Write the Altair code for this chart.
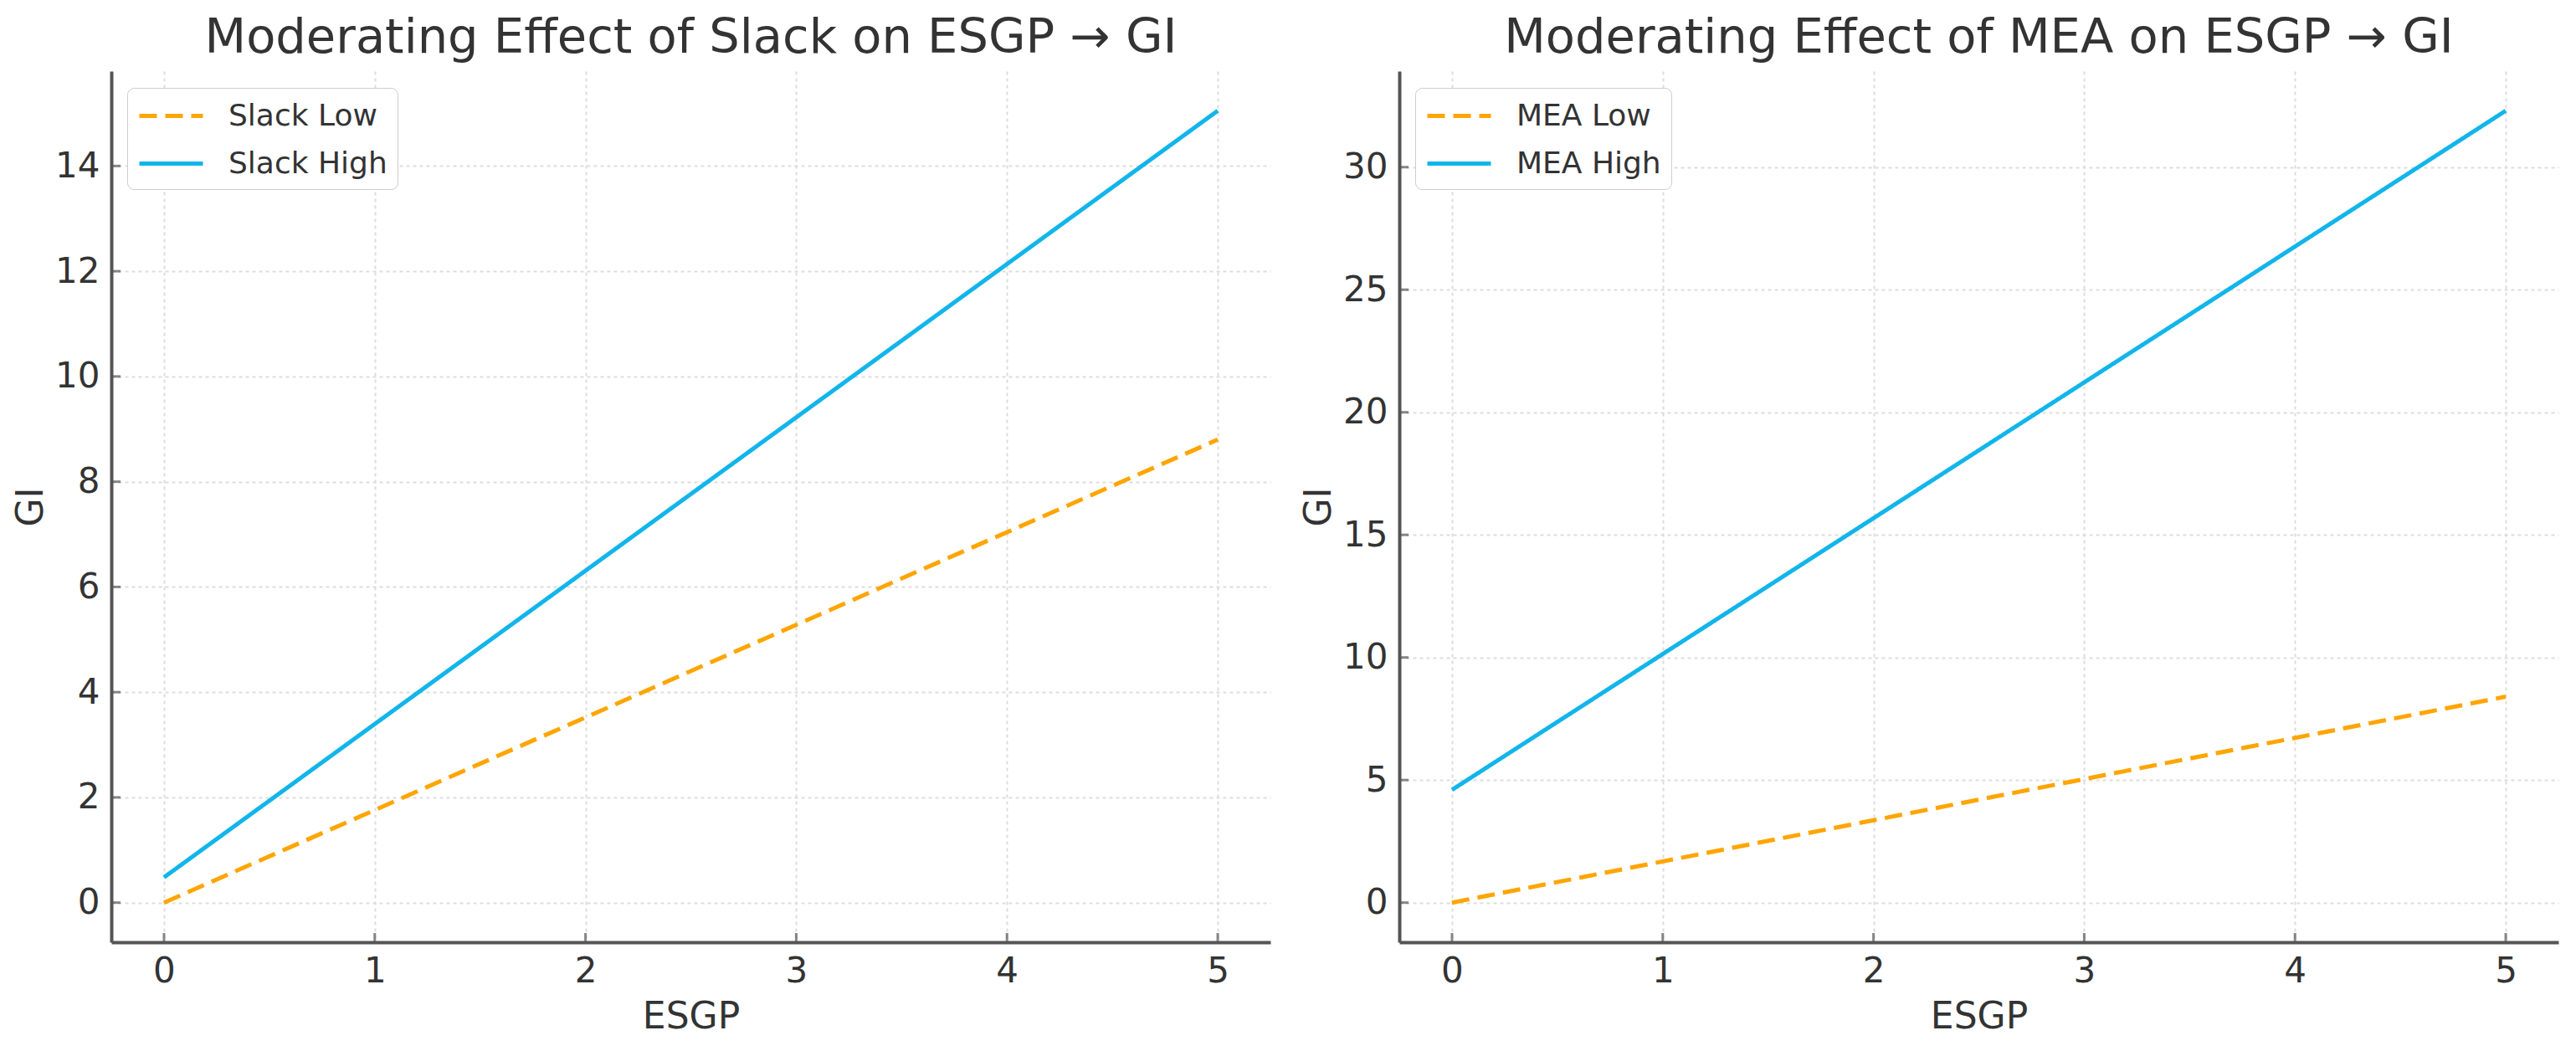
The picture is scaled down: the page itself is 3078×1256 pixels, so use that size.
import altair as alt
import pandas as pd

# ---- data ----
esgp = [0, 5]
slack_low = [0.0, 8.8]
slack_high = [0.48, 15.05]
mea_low = [0.0, 8.4]
mea_high = [4.6, 32.3]

x_ticks = [0, 1, 2, 3, 4, 5]
slack_y_ticks = [0, 2, 4, 6, 8, 10, 12, 14]
mea_y_ticks = [0, 5, 10, 15, 20, 25, 30]

ORANGE = "#FFA500"
BLUE = "#12B5EA"
FONT = "DejaVu Sans"
TEXT = "#333333"
AXIS = "#555555"

W, H = 1385, 1041


def pad_domain(vals, frac=0.05):
    lo, hi = min(vals), max(vals)
    m = (hi - lo) * frac
    return [lo - m, hi + m]


def panel(title, low_name, high_name, low_vals, high_vals, y_ticks):
    df = pd.DataFrame({
        "ESGP": esgp + esgp,
        "GI": low_vals + high_vals,
        "series": [low_name] * len(esgp) + [high_name] * len(esgp),
    })
    xdom = pad_domain(esgp)
    ydom = pad_domain(low_vals + high_vals)
    xscale = alt.Scale(domain=xdom, nice=False, zero=False)
    yscale = alt.Scale(domain=ydom, nice=False, zero=False)
    xaxis = alt.Axis(values=x_ticks, title="ESGP", format="d")
    yaxis = alt.Axis(values=y_ticks, title="GI", format="d")
    names = [low_name, high_name]
    leg = alt.Legend(
        title=None, orient="none", legendX=19, legendY=20,
        symbolType="M-1,0L3,0", symbolSize=1444, symbolStrokeWidth=5,
        labelFontSize=36, labelFont=FONT, labelColor=TEXT, labelOffset=66,
        labelLimit=600, padding=12, rowPadding=17,
        strokeColor="#cccccc", cornerRadius=8, fillColor="white",
    )
    lines = alt.Chart(df).mark_line(strokeWidth=5, clip=True).encode(
        x=alt.X("ESGP:Q", scale=xscale, axis=xaxis),
        y=alt.Y("GI:Q", scale=yscale, axis=yaxis),
        color=alt.Color("series:N", scale=alt.Scale(domain=names, range=[ORANGE, BLUE]), legend=leg),
        strokeDash=alt.StrokeDash("series:N", scale=alt.Scale(domain=names, range=[[21, 10], [1, 0]]), legend=leg),
    )
    xt = alt.Chart(pd.DataFrame({"ESGP": x_ticks})).mark_tick(
        orient="vertical", size=22, thickness=3, color=AXIS, clip=True
    ).encode(
        x=alt.X("ESGP:Q", title="ESGP"),
        y=alt.datum(ydom[0]),
    )
    yt = alt.Chart(pd.DataFrame({"GI": y_ticks})).mark_tick(
        orient="horizontal", size=22, thickness=3, color=AXIS, clip=True
    ).encode(
        y=alt.Y("GI:Q", title="GI"),
        x=alt.datum(xdom[0]),
    )
    return alt.layer(lines, xt, yt).properties(
        width=W, height=H,
        title=alt.TitleParams(title, fontSize=57.5, font=FONT, fontWeight="normal",
                              color=TEXT, anchor="middle", offset=10),
    )


left = panel("Moderating Effect of Slack on ESGP \u2192 GI", "Slack Low", "Slack High",
             slack_low, slack_high, slack_y_ticks)
right = panel("Moderating Effect of MEA on ESGP \u2192 GI", "MEA Low", "MEA High",
              mea_low, mea_high, mea_y_ticks)

chart = alt.hconcat(left, right, spacing=36).resolve_scale(
    color="independent", strokeDash="independent"
).properties(
    padding={"left": 7, "top": 8, "right": 4, "bottom": 4},
    background="white",
).configure_view(stroke=None).configure_axis(
    grid=True, gridColor="#dddddd", gridDash=[4, 4], gridWidth=2,
    domainColor=AXIS, domainWidth=4, ticks=False,
    labelFont=FONT, labelFontSize=42, labelColor=TEXT, labelPadding=14,
    titleFont=FONT, titleFontSize=44, titleColor=TEXT, titleFontWeight="normal",
    titlePadding=6,
).configure_axisX(labelAngle=0, titlePadding=12)

chart.save("out.html", embed_options={"renderer": "svg", "actions": False})
